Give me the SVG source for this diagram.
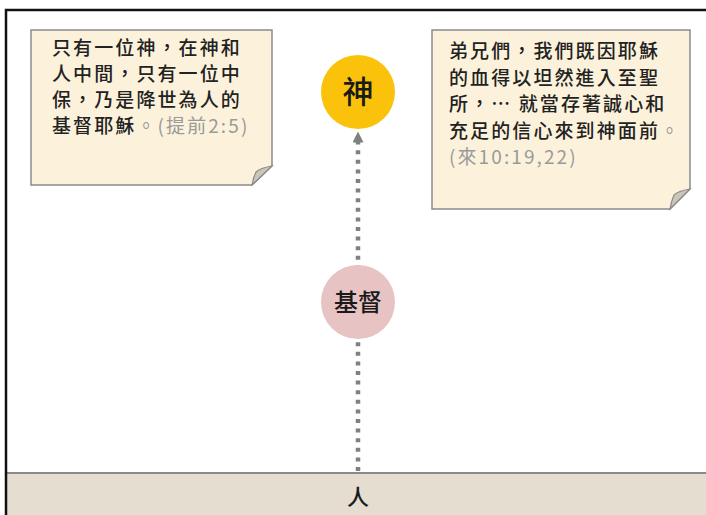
<svg xmlns="http://www.w3.org/2000/svg" width="706" height="515" viewBox="0 0 706 515">
<style>
.t{font-family:"Noto Sans CJK TC","Noto Sans CJK SC",sans-serif;fill:#222;font-size:19px;font-weight:500;letter-spacing:2.1px}
.ref{fill:#9a9a9a;font-weight:400}
.note{fill:#fcf2dc;stroke:#8a8a8a;stroke-width:1.5}
.flap{fill:#cbc6b8;stroke:#8a8a8a;stroke-width:1.2}
.lbl{font-family:"Noto Sans CJK TC","Noto Sans CJK SC",sans-serif;fill:#1a1a1a;text-anchor:middle;font-weight:500}
</style>
<defs>
<marker id="ah" viewBox="0 0 10 10" refX="5" refY="5" markerWidth="11" markerHeight="11" markerUnits="userSpaceOnUse" orient="auto">
<path d="M0,0 L10,5 L0,10 Z" fill="#808080"/>
</marker>
</defs>
<rect width="706" height="515" fill="#fff"/>
<g id="ground">
<rect x="7" y="473" width="699" height="42" fill="#e4ddd0"/>
<line x1="7" y1="473" x2="706" y2="473" stroke="#8a8a8a" stroke-width="2"/>
<text class="lbl" x="358" y="505" font-size="22">人</text>
</g>
<g id="frame" fill="none" stroke="#111" stroke-width="2.5">
<path d="M6,515 L6,10 L706,10"/>
</g>
<g id="connectors">
<line x1="358" y1="471" x2="358" y2="137" stroke="#808080" stroke-width="4.5" stroke-dasharray="4 5.6" marker-end="url(#ah)"/>
</g>
<g id="god">
<circle cx="358" cy="92" r="37" fill="#fbc20c"/>
<text class="lbl" x="358" y="103" font-size="31">神</text>
</g>
<g id="christ">
<circle cx="358" cy="302" r="37" fill="#e8c3c3"/>
<text class="lbl" x="358" y="311" font-size="24">基督</text>
</g>
<g id="note1">
<path class="note" d="M31,30 L272,30 L272,166 L252,185 L31,185 Z"/>
<path class="flap" d="M272,166 Q260,168 256,172 Q253,178 252,185 Z"/>
<text class="t" x="52" y="55">只有一位神，在神和</text>
<text class="t" x="52" y="81">人中間，只有一位中</text>
<text class="t" x="52" y="107">保，乃是降世為人的</text>
<text class="t" x="52" y="133">基督耶穌<tspan class="ref">。(提前2:5)</tspan></text>
</g>
<g id="note2">
<path class="note" d="M432,30 L690,30 L690,189 L670,209 L432,209 Z"/>
<path class="flap" d="M690,189 Q678,191 674,195 Q671,202 670,209 Z"/>
<text class="t" x="449" y="58">弟兄們，我們既因耶穌</text>
<text class="t" x="449" y="85">的血得以坦然進入至聖</text>
<text class="t" x="449" y="111">所，… 就當存著誠心和</text>
<text class="t" x="449" y="138">充足的信心來到神面前<tspan class="ref">。</tspan></text>
<text class="t ref" x="449" y="164">(來10:19,22)</text>
</g>
</svg>
